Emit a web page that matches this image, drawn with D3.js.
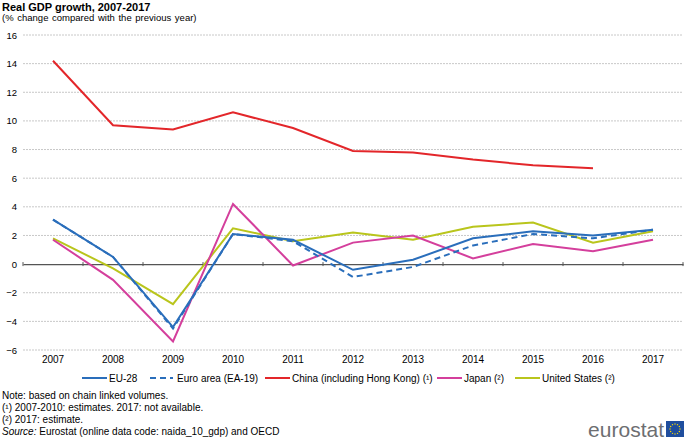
<!DOCTYPE html>
<html><head><meta charset="utf-8">
<script src="https://cdn.jsdelivr.net/npm/d3@7"></script>
<style>
body{margin:0;background:#fff;}
svg{display:block;}
text{font-family:"Liberation Sans Narrow","Arial Narrow","Liberation Sans",Arial,sans-serif;fill:#000;}
</style></head>
<body>
<script>
const years = ["2007","2008","2009","2010","2011","2012","2013","2014","2015","2016","2017"];
const eu28 = [3.1, 0.5, -4.4, 2.1, 1.7, -0.4, 0.3, 1.8, 2.3, 2.0, 2.4];
const euroArea = [3.1, 0.5, -4.5, 2.1, 1.6, -0.9, -0.2, 1.3, 2.1, 1.8, 2.4];
const china = [14.2, 9.7, 9.4, 10.6, 9.5, 7.9, 7.8, 7.3, 6.9, 6.7, null];
const japan = [1.7, -1.1, -5.4, 4.2, -0.1, 1.5, 2.0, 0.4, 1.4, 0.9, 1.7];
const us = [1.8, -0.3, -2.8, 2.5, 1.6, 2.2, 1.7, 2.6, 2.9, 1.5, 2.3];
const yTicks = [-6,-4,-2,0,2,4,6,8,10,12,14,16];
const seriesNames = ["EU-28","Euro area (EA-19)","China (including Hong Kong) (¹)","Japan (²)","United States (²)"];
const seriesColors = ["#2a6ebb","#2a6ebb","#e3262a","#d43f9c","#b9c51c"];
const seriesDash = [null,"6,4",null,null,null];
const seriesData = [eu28, euroArea, china, japan, us];
const notes = ["Note: based on chain linked volumes.","(¹) 2007-2010: estimates. 2017: not available.","(²) 2017: estimate."];

const W=685,H=441;
const svg=d3.select("body").append("svg").attr("width",W).attr("height",H);

svg.append("text").attr("x",2).attr("y",11).style("font-family","Liberation Sans, Arial, sans-serif")
  .style("font-weight","bold").style("font-size","11px").text("Real GDP growth, 2007-2017");
svg.append("text").attr("x",2).attr("y",21).style("font-family","Liberation Sans, Arial, sans-serif")
  .style("font-size","9.5px").style("word-spacing","1px").text("(% change compared with the previous  year)");

const x=d3.scaleBand().domain(years).range([23,683]);
const y=d3.scaleLinear().domain([-6,16]).range([350,35]);

// gridlines
svg.append("g").selectAll("line").data(yTicks.filter(d=>d!==0)).join("line")
  .attr("x1",23).attr("x2",683).attr("y1",d=>y(d)).attr("y2",d=>y(d))
  .attr("stroke","#c8c8c8").attr("stroke-width",1).attr("stroke-dasharray","2,1");

// y labels
const ya=svg.append("g").attr("transform","translate(23,0)")
  .call(d3.axisLeft(y).tickValues(yTicks).tickSize(0).tickPadding(6));
ya.select(".domain").remove();
ya.selectAll("text").style("font-family","Liberation Sans, Arial, sans-serif").style("font-size","9.5px").attr("fill","#000");

// zero axis
const xa=svg.append("g").attr("transform",`translate(0,${y(0)})`)
  .call(d3.axisBottom(x).tickSize(0).tickFormat(""));
xa.select(".domain").attr("stroke","#555").attr("stroke-width",1.2);
svg.append("g").selectAll("line").data(years.concat(["end"])).join("line")
  .attr("x1",(d,i)=>23+i*x.step()).attr("x2",(d,i)=>23+i*x.step())
  .attr("y1",y(0)-2).attr("y2",y(0)+2).attr("stroke","#555");

// year labels
svg.append("g").selectAll("text").data(years).join("text")
  .attr("x",d=>x(d)+x.bandwidth()/2).attr("y",363).attr("text-anchor","middle")
  .style("font-size","10px").text(d=>d);

// lines
const line=d3.line().defined(d=>d.v!==null).x(d=>x(d.k)+x.bandwidth()/2).y(d=>y(d.v));
const order=[2,4,3,1,0];
order.forEach(i=>{
  svg.append("path").datum(years.map((k,j)=>({k,v:seriesData[i][j]})))
    .attr("d",line).attr("fill","none").attr("stroke",seriesColors[i])
    .attr("stroke-width",2).attr("stroke-dasharray",seriesDash[i]).attr("stroke-linejoin","miter");
});

// legend
const legX=[82,150,265,437,515];
seriesNames.forEach((n,i)=>{
  const g=svg.append("g").attr("transform",`translate(${legX[i]},378)`);
  g.append("line").attr("x1",0).attr("x2",i===1?23:25).attr("y1",0).attr("y2",0)
    .attr("stroke",seriesColors[i]).attr("stroke-width",2).attr("stroke-dasharray",seriesDash[i]);
  g.append("text").attr("x",27).attr("y",3.5).style("font-size","10px").text(n);
});

// notes
notes.forEach((t,i)=>{
  svg.append("text").attr("x",2).attr("y",399+i*12).style("font-size","10px").text(t);
});
const src=svg.append("text").attr("x",2).attr("y",435).style("font-size","10px");
src.append("tspan").style("font-style","italic").text("Source:");
src.append("tspan").text(" Eurostat (online data code: naida_10_gdp) and OECD");

// logo
svg.append("text").attr("x",664).attr("y",437).attr("text-anchor","end")
  .style("font-family","Liberation Sans, Arial, sans-serif").style("font-size","21px").style("fill","#6d6e71").text("eurostat");
svg.append("rect").attr("x",666).attr("y",421).attr("width",18).attr("height",16).attr("fill","#1f4e9e");
const stars=d3.range(12).map(i=>[675+5*Math.cos(i*Math.PI/6),429+5*Math.sin(i*Math.PI/6)]);
svg.append("g").selectAll("circle").data(stars).join("circle")
  .attr("cx",d=>d[0]).attr("cy",d=>d[1]).attr("r",0.7).attr("fill","#ffdd00");
</script>
</body></html>
